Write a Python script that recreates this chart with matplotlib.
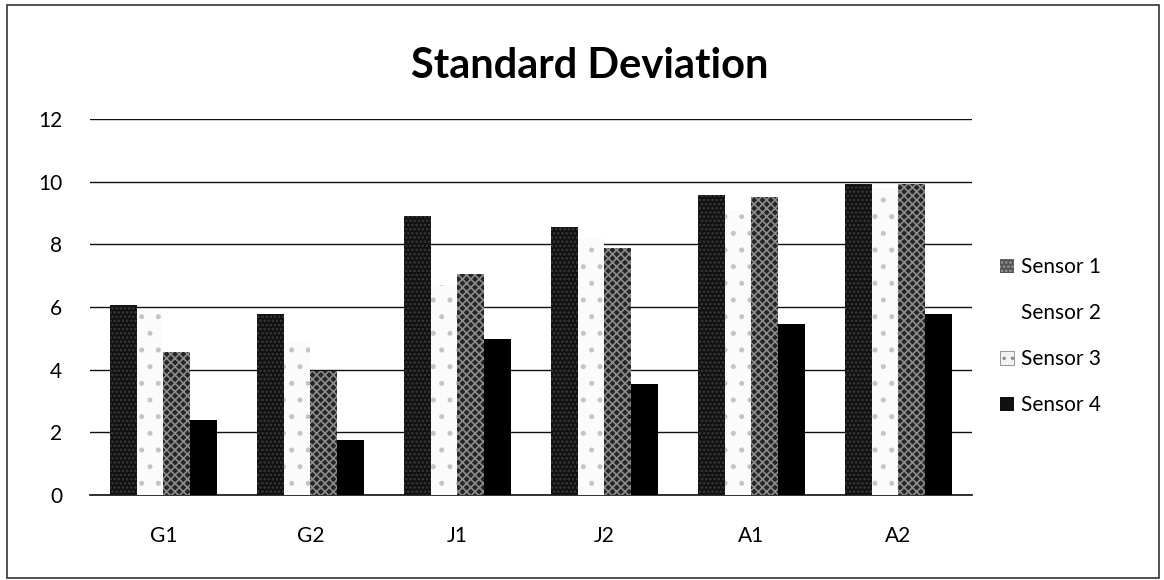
import numpy as np
import matplotlib
matplotlib.use('Agg')
import matplotlib.pyplot as plt
from matplotlib.patches import Patch, Rectangle

plt.rcParams['font.family'] = ['Lato', 'DejaVu Sans']
plt.rcParams['hatch.linewidth'] = 1.2

# 표준편차 데이터
groups = ['G1', 'G2', 'J1', 'J2', 'A1', 'A2']
sensor1 = [6.05, 5.78, 8.9, 8.54, 9.57, 9.94]
sensor2 = [5.9, 4.9, 6.7, 8.2, 9.1, 9.8]
sensor3 = [4.57, 3.97, 7.05, 7.87, 9.5, 9.94]
sensor4 = [2.39, 1.76, 4.98, 3.53, 5.45, 5.77]
series = [sensor1, sensor2, sensor3, sensor4]
names = ['Sensor 1', 'Sensor 2', 'Sensor 3', 'Sensor 4']

# 흑백 인쇄용 질감 흉내
styles = [
    dict(facecolor='#111111', edgecolor='#3a3a3a', hatch='....'),
    dict(facecolor='#fbfbfb', edgecolor='#c4c4c4', hatch='.'),
    dict(facecolor='#262626', edgecolor='#8c8c8c', hatch='xxxx'),
    dict(facecolor='#000000', edgecolor='#000000', hatch=None),
]

fig = plt.figure(figsize=(11.64, 5.8), dpi=100)
ax = fig.add_axes([0.0773, 0.1466, 0.7577, 0.648])

x = np.arange(len(groups))
w = 0.182
for i, (vals, st) in enumerate(zip(series, styles)):
    ax.bar(x + (i - 1.5) * w, vals, width=w, linewidth=0, zorder=3, **st)

ax.set_xlim(-0.5, len(groups) - 0.5)
ax.set_ylim(0, 12)
ax.set_yticks(range(0, 13, 2))
ax.set_xticks(x)
ax.set_xticklabels(groups)
ax.grid(axis='y', color='#111111', linewidth=1.0, zorder=0)
for s in ['top', 'right', 'left']:
    ax.spines[s].set_visible(False)
ax.spines['bottom'].set_color('#222222')
ax.spines['bottom'].set_linewidth(1.3)
ax.tick_params(axis='both', length=0, labelsize=15)
ax.tick_params(axis='x', pad=22)
ax.tick_params(axis='y', pad=20)

fig.text(0.507, 0.886, 'Standard Deviation', ha='center', va='center',
         fontsize=30, fontweight='bold')

handles = [
    Patch(facecolor='#555555', edgecolor='#999999', hatch='....', linewidth=0),
    Patch(facecolor='white', edgecolor='white', linewidth=0),
    Patch(facecolor='#f2f2f2', edgecolor='#888888', hatch='..', linewidth=0.6),
    Patch(facecolor='#111111', edgecolor='#111111', linewidth=0),
]
fig.legend(handles, names, loc='center left', bbox_to_anchor=(0.843, 0.42),
           frameon=False, fontsize=15, handlelength=0.65, handleheight=0.65,
           handletextpad=0.35, labelspacing=1.25)

# 바깥 테두리
fig.add_artist(Rectangle((0.006, 0.004), 0.99, 0.988, transform=fig.transFigure,
                         fill=False, edgecolor='#333333', linewidth=1.2))

fig.savefig('out.png', dpi=100)
